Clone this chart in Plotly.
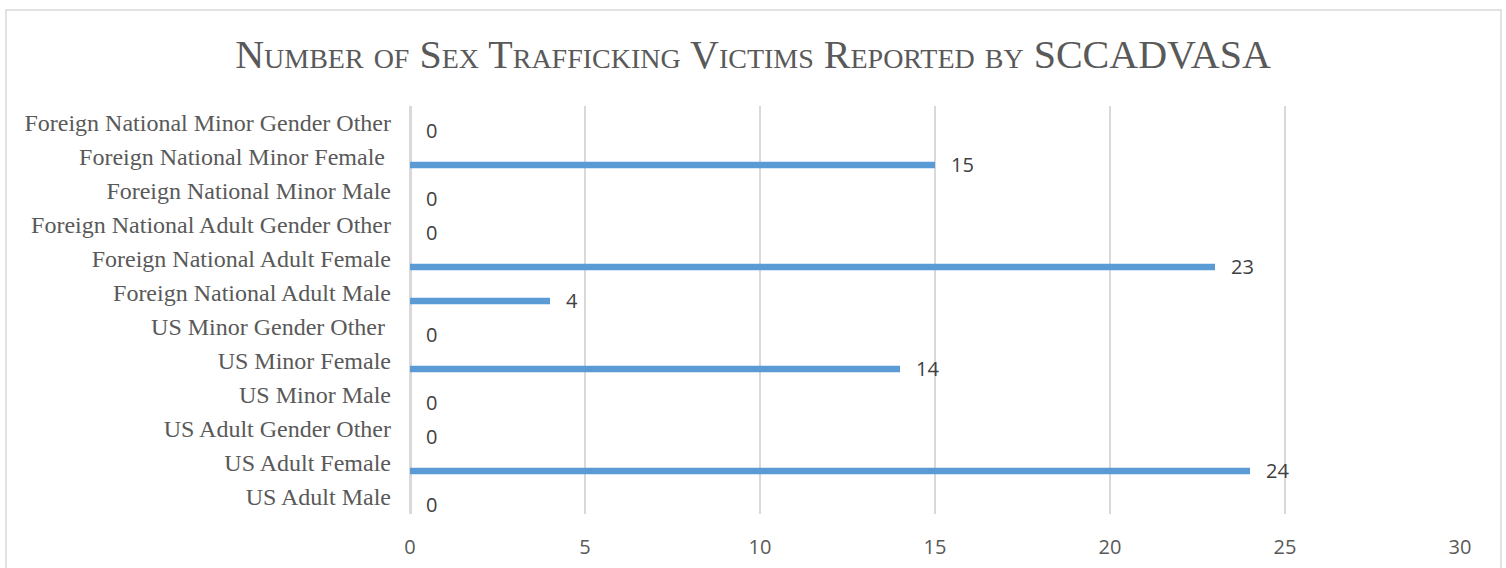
import plotly.graph_objects as go

# Categories listed bottom to top as they appear on the axis
categories = [
    "US Adult Male",
    "US Adult Female",
    "US Adult Gender Other",
    "US Minor Male",
    "US Minor Female",
    "US Minor Gender Other\u00a0",
    "Foreign National Adult Male",
    "Foreign National Adult Female",
    "Foreign National Adult Gender Other",
    "Foreign National Minor Male",
    "Foreign National Minor Female\u00a0",
    "Foreign National Minor Gender Other",
]
victims = [0, 24, 0, 0, 14, 0, 4, 23, 0, 0, 15, 0]
x_ticks = [0, 5, 10, 15, 20, 25, 30]

positions = list(range(len(categories)))
bar_center_shift = -0.235
bar_thickness = 0.19

W, H = 1506, 568
L, R, T, B = 410, 46, 106, 54
pw, ph = W - L - R, H - T - B

fig = go.Figure()
fig.add_trace(go.Bar(
    x=victims,
    y=positions,
    orientation="h",
    base=0,
    width=bar_thickness,
    offset=bar_center_shift - bar_thickness / 2,
    marker=dict(color="#5b9bd5", line=dict(width=0)),
    hoverinfo="skip",
    showlegend=False,
))

# value labels just past the end of each bar
for pos, val in zip(positions, victims):
    fig.add_annotation(
        x=val, y=pos + bar_center_shift, xref="x", yref="y",
        text=str(val), showarrow=False, xanchor="left", yanchor="middle",
        xshift=14, font=dict(family="Open Sans", size=20, color="#404040"),
    )

# outer chart frame
def px_x(p):
    return (p - L) / pw

def px_y(p):
    return (H - B - p) / ph

fig.add_shape(
    type="rect", xref="paper", yref="paper",
    x0=px_x(6), x1=px_x(1501), y0=px_y(585), y1=px_y(10),
    line=dict(color="#d9d9d9", width=1.5), fillcolor="rgba(0,0,0,0)",
    layer="below",
)

fig.update_layout(
    width=W, height=H,
    margin=dict(l=L, r=R, t=T, b=B),
    paper_bgcolor="white",
    plot_bgcolor="white",
    title=dict(
        text="Number of Sex Trafficking Victims Reported by SCCADVASA",
        x=0.5, xref="container", xanchor="center",
        y=1 - 54 / H, yref="container", yanchor="middle",
        font=dict(family="Liberation Serif", size=40, color="#595959",
                  variant="small-caps"),
    ),
    xaxis=dict(
        range=[0, 30],
        tickvals=x_ticks,
        showgrid=True, gridcolor="#d9d9d9", gridwidth=2,
        zeroline=True, zerolinecolor="#d9d9d9", zerolinewidth=3,
        showline=False, ticks="",
        tickfont=dict(family="Open Sans", size=20, color="#595959"),
        ticklabelstandoff=19,
        automargin=False,
        fixedrange=True,
    ),
    yaxis=dict(
        range=[-0.5, len(categories) - 0.5],
        tickvals=positions,
        ticktext=categories,
        showgrid=False, zeroline=False, showline=False, ticks="",
        tickfont=dict(family="Liberation Serif", size=24, color="#595959"),
        ticklabelstandoff=18,
        automargin=False,
        fixedrange=True,
    ),
)

fig.write_html("out.html")
